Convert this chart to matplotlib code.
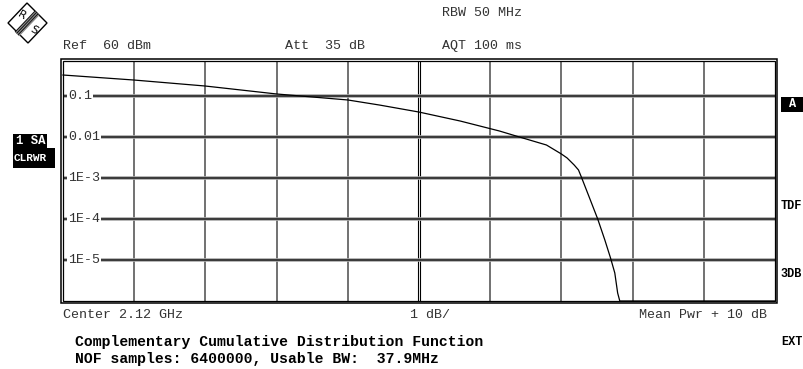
import numpy as np
import matplotlib.pyplot as plt
from matplotlib.patches import Rectangle, Polygon

# CCDF trace: power above mean (dB) vs. probability
ccdf_db = [0.0, 1.0, 2.0, 3.0, 4.0, 4.45, 5.0, 5.58, 6.13, 6.41, 6.79, 7.0,
           7.08, 7.18, 7.24, 7.28, 7.39, 7.51, 7.61, 7.69, 7.75, 7.79, 7.82,
           10.0]
ccdf_prob = [0.325, 0.245, 0.175, 0.112, 0.080, 0.060, 0.0406, 0.0245, 0.014,
             0.0100, 0.00638, 0.00385, 0.00308, 0.00207, 0.00157, 0.00106,
             3.44e-4, 1.0e-4, 3.08e-5, 1.12e-5, 4.82e-6, 1.57e-6, 1.0e-6,
             1.0e-6]

grid_levels = [0.1, 0.01, 1e-3, 1e-4, 1e-5]
grid_labels = ['0.1', '0.01', '1E-3', '1E-4', '1E-5']

W, H = 804, 369
MONO = 'Liberation Mono'


def fx(x):
    return x / W


def fy(y):
    return 1 - y / H


fig = plt.figure(figsize=(W / 100, H / 100), dpi=100)
fig.patch.set_facecolor('white')

# plot area in pixel coords: x 63..775, y 61..301
x0, x1, y0, y1 = 63, 775, 61, 301
ax = fig.add_axes([fx(x0), fy(y1), (x1 - x0) / W, (y1 - y0) / H])
ax.set_yscale('log')
ax.set_xlim(0, 10)
ax.set_ylim(1e-6, 10 ** (-1 + 35 / 41))
ax.set_xticks([])
ax.set_yticks([])
ax.minorticks_off()
for s in ax.spines.values():
    s.set_visible(False)

# vertical division lines (1 dB/div)
for d in range(1, 10):
    if d == 5:
        for off in (-0.018, 0.018):
            ax.axvline(d + off, color='black', lw=0.8, zorder=2)
    else:
        ax.axvline(d, color='#4a4a4a', lw=1.1, zorder=2)

# decade lines, thick with a soft edge
for lev in grid_levels:
    ax.axhline(lev, color='#a8a8a8', lw=2.6, zorder=3)
    ax.axhline(lev, color='#3a3a3a', lw=1.4, zorder=3)

for lev, lab in zip(grid_levels, grid_labels):
    ax.text(0.007, lev, lab, transform=ax.get_yaxis_transform(),
            family=MONO, fontsize=9.6, color='#333333', va='center', ha='left',
            zorder=4, bbox=dict(facecolor='white', edgecolor='none', pad=1.0))

ax.plot(ccdf_db, ccdf_prob, color='black', lw=0.9, zorder=5, clip_on=False)

# double frame
ax.add_patch(Rectangle((0, 0), 1, 1, transform=ax.transAxes, fill=False,
                       ec='black', lw=0.9, clip_on=False, zorder=6))
dx, dy = 2.4 / (x1 - x0), 2.4 / (y1 - y0)
ax.add_patch(Rectangle((-dx, -dy), 1 + 2 * dx, 1 + 2 * dy,
                       transform=ax.transAxes, fill=False, ec='black', lw=1.1,
                       clip_on=False, zorder=6))

# header and footer annotations
def label(x, y, s, size=9.6, weight='normal', color='#333333', ha='left'):
    fig.text(fx(x), fy(y), s, family=MONO, fontsize=size, fontweight=weight,
             color=color, ha=ha, va='center')


label(442, 13, 'RBW 50 MHz')
label(63, 46, 'Ref  60 dBm')
label(285, 46, 'Att  35 dB')
label(442, 46, 'AQT 100 ms')
label(63, 315, 'Center 2.12 GHz')
label(410, 315, '1 dB/')
label(767, 315, 'Mean Pwr + 10 dB', ha='right')
label(75, 342, 'Complementary Cumulative Distribution Function',
      size=10.6, weight='bold', color='black')
label(75, 359, 'NOF samples: 6400000, Usable BW:  37.9MHz',
      size=10.6, weight='bold', color='black')

# side annotations
fig.patches.append(Rectangle((fx(13), fy(148)), 34 / W, 14 / H,
                             transform=fig.transFigure, fc='black', ec='none'))
fig.patches.append(Rectangle((fx(13), fy(168)), 42 / W, 20 / H,
                             transform=fig.transFigure, fc='black', ec='none'))
label(16, 141, '1 SA', size=8.8, weight='bold', color='white')
label(14, 158, 'CLRWR', size=8.0, weight='bold', color='white')

fig.patches.append(Rectangle((fx(781), fy(112)), 30 / W, 15 / H,
                             transform=fig.transFigure, fc='black', ec='none'))
label(789, 104, 'A', size=8.6, weight='bold', color='white')
label(781, 206, 'TDF', size=8.6, weight='bold', color='black')
label(781, 274, '3DB', size=8.6, weight='bold', color='black')
label(781, 342, 'EXT', size=8.6, weight='bold', color='black')

# R&S logo
lg = fig.add_axes([0, fy(45), 52 / W, 45 / H])
lg.set_xlim(0, 52)
lg.set_ylim(45, 0)
lg.axis('off')
lg.add_patch(Polygon([(8, 23), (27, 3), (47, 23), (28, 43)], closed=True,
                     fill=False, ec='black', lw=1.0))
for k, c in zip(np.linspace(-2.6, 2.6, 6),
                ['#111', '#888', '#111', '#888', '#111', '#888']):
    lg.plot([17 + k * 0.7, 37 + k * 0.7], [34 + k * 0.7, 13 + k * 0.7],
            color=c, lw=1.0, solid_capstyle='butt')
lg.text(22, 15, 'R', family='DejaVu Sans', fontsize=8, rotation=-30,
        ha='center', va='center')
lg.text(34, 30, 'S', family='DejaVu Sans', fontsize=8, rotation=-30,
        ha='center', va='center')

fig.savefig('out.png', dpi=100)
